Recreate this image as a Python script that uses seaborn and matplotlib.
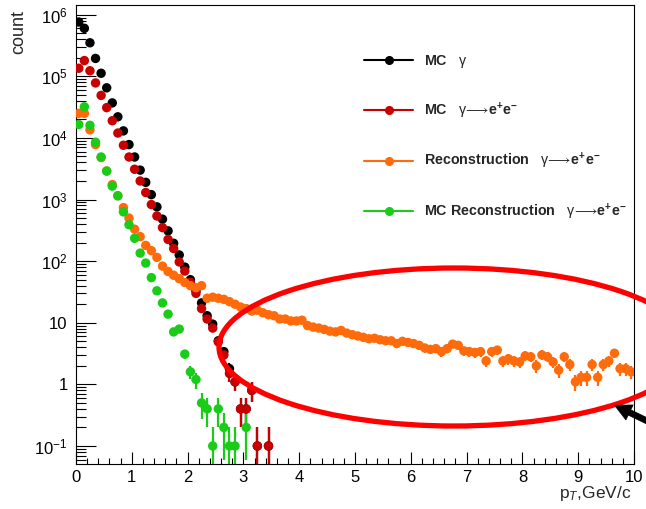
import numpy as np
import pandas as pd
import matplotlib
matplotlib.use("Agg")
import matplotlib.pyplot as plt
import seaborn as sns
from matplotlib.lines import Line2D
from matplotlib.patches import Ellipse, FancyArrowPatch
from matplotlib.ticker import FixedLocator, MultipleLocator, LogLocator, NullFormatter

nan = np.nan

# ---------------- data (bin width 0.1 GeV/c) ----------------
bin_centers = np.round(np.arange(100) * 0.1 + 0.05, 2)

mc_gamma = [7.6e5, 6.0e5, 3.5e5, 1.95e5, 1.12e5, 6.5e4, 3.7e4, 2.2e4, 1.3e4, 7.8e3,
            4.9e3, 3.0e3, 1.9e3, 1.2e3, 760, 480, 310, 195, 126, 80,
            50, 33, 21, 13, 9.5, 5.1, 3.4, 1.8, 1.1, 0.4,
            0.4, 0.8, 0.1, nan, 0.1]

mc_conv = [1.35e5, 1.8e5, 1.23e5, 7.8e4, 4.9e4, 3.1e4, 1.9e4, 1.2e4, 7.6e3, 4.9e3,
           3.1e3, 2.0e3, 1.3e3, 830, 540, 350, 225, 160, 97, 69,
           45, 30, 17, 11.5, 8.2, 4.9, 3.0, 1.5, 1.1, 0.4,
           0.4, 0.8, 0.1, nan, 0.1]

reco_conv = [2.5e4, 2.5e4, 1.35e4, 7.8e3, 4.8e3, 2.9e3, 1.75e3, 1.15e3, 740, 500,
             330, 250, 180, 148, 115, 83, 68, 59, 52, 45,
             40, 37, 40, 25, 26, 25, 24, 22, 20, 18,
             17, 15.5, 16, 14.5, 13.5, 13, 11.5, 11.5, 10.7, 10.7,
             11, 9, 8.5, 8.2, 7.8, 7.3, 7.1, 7.5, 6.8, 6.4,
             6.1, 5.8, 5.5, 5.6, 5.3, 5.1, 5.1, 4.6, 5.0, 4.8,
             4.6, 4.3, 3.9, 3.7, 3.8, 3.4, 3.8, 4.5, 4.3, 3.5,
             3.4, 3.3, 3.4, 2.4, 3.4, 3.6, 2.4, 2.6, 2.4, 2.3,
             2.9, 2.8, 2.0, 3.0, 2.8, 2.3, 1.7, 2.8, 2.1, 1.1,
             1.3, 1.3, 2.1, 1.3, 2.1, 2.4, 3.2, 1.8, 1.8, 1.6]

mc_reco_conv = [1.65e4, 3.2e4, 1.6e4, 8.5e3, 4.9e3, 2.9e3, 1.65e3, 1.15e3, 630, 390,
                235, 135, 93, 54, 33, 21, 13.8, 7.1, 7.9, 3.1,
                1.6, 1.2, 0.5, 0.4, 0.1, 0.4, 0.2, 0.1, 0.1, nan,
                0.2]

series_names = ["MC gamma", "MC conv", "Reco conv", "MC reco conv"]
series_values = [mc_gamma, mc_conv, reco_conv, mc_reco_conv]
colors = ["#000000", "#c80000", "#ff6a0a", "#18cc18"]
legend_labels = [r"MC   $\mathrm{\gamma}$",
                 r"MC   $\mathrm{\gamma}\!\longrightarrow\!\mathbf{e^{+}e^{-}}$",
                 r"Reconstruction   $\mathrm{\gamma}\!\longrightarrow\!\mathbf{e^{+}e^{-}}$",
                 r"MC Reconstruction   $\mathrm{\gamma}\!\longrightarrow\!\mathbf{e^{+}e^{-}}$"]
bin_weight = 0.1  # each entry counts 0.1 -> Poisson errors

# ---------------- style ----------------
sns.set_style("ticks")
plt.rcParams["font.family"] = ["Liberation Sans", "DejaVu Sans"]
plt.rcParams["mathtext.fontset"] = "custom"
plt.rcParams["mathtext.rm"] = "Liberation Sans"
plt.rcParams["mathtext.it"] = "Liberation Sans:italic"
plt.rcParams["mathtext.bf"] = "Liberation Sans:bold"

W, H = 646, 509
fig = plt.figure(figsize=(W / 100, H / 100), dpi=100)
ax_l, ax_r, ax_t, ax_b = 76, 634, 5.3, 464
ax = fig.add_axes([ax_l / W, 1 - ax_b / H, (ax_r - ax_l) / W, (ax_b - ax_t) / H])

frames = []
for name, vals in zip(series_names, series_values):
    v = np.asarray(vals, dtype=float)
    frames.append(pd.DataFrame({"pt": bin_centers[:len(v)], "count": v, "series": name}))
df = pd.concat(frames, ignore_index=True).dropna()
palette = dict(zip(series_names, colors))

# error bars
for name in series_names:
    d = df[df.series == name]
    err = np.sqrt(bin_weight * d["count"].values)
    lo = np.clip(d["count"].values - err, 1e-4, None)
    hi = d["count"].values + err
    ax.vlines(d["pt"].values, lo, hi, color=palette[name], lw=1.6, zorder=2)

sns.scatterplot(data=df, x="pt", y="count", hue="series", palette=palette,
                s=46, edgecolor="none", linewidth=0, legend=False, ax=ax, zorder=3)

ax.set_yscale("log")
ax.set_xlim(0, 10)
ax.set_ylim(0.051, 1.42e6)

yt = [0.1, 1, 10, 100, 1e3, 1e4, 1e5, 1e6]
ytl = [r"$10^{-1}$", "1", "10", r"$10^{2}$", r"$10^{3}$", r"$10^{4}$", r"$10^{5}$", r"$10^{6}$"]
ax.yaxis.set_major_locator(FixedLocator(yt))
ax.set_yticklabels(ytl)
ax.yaxis.set_minor_locator(LogLocator(base=10, subs=np.arange(2, 10), numticks=20))
ax.yaxis.set_minor_formatter(NullFormatter())
ax.xaxis.set_major_locator(MultipleLocator(1))
ax.xaxis.set_minor_locator(MultipleLocator(0.2))

ax.tick_params(axis="both", which="both", direction="in", top=False, right=False,
               colors="black", width=0.8, labelsize=12)
ax.tick_params(axis="y", which="major", length=14.4, pad=6)
ax.tick_params(axis="y", which="minor", length=7.2)
ax.tick_params(axis="x", which="major", length=8.6, pad=4.5)
ax.tick_params(axis="x", which="minor", length=4.3)
for s in ax.spines.values():
    s.set_visible(True)
    s.set_linewidth(0.8)
    s.set_color("black")

ax.set_xlabel(r"p$_{T}$,GeV/c", fontsize=12.5, loc="right")
ax.xaxis.set_label_coords((631 - ax_l) / (ax_r - ax_l), -(484 - ax_b) / (ax_b - ax_t))
ax.set_ylabel("count", fontsize=13, loc="top")
ax.yaxis.set_label_coords(-(ax_l - 27) / (ax_r - ax_l), 0.99)

handles = [Line2D([], [], color=c, marker="o", markersize=5.5, lw=1.5) for c in colors]
leg = ax.legend(handles, legend_labels, loc="upper left",
                bbox_to_anchor=(364 / W, 1 - 53 / H), bbox_transform=fig.transFigure,
                frameon=False, prop={"weight": "bold", "size": 10.3},
                handlelength=3.45, handletextpad=0.75, labelspacing=2.12,
                borderpad=0, borderaxespad=0)

# annotation: red ellipse and black arrow (figure pixel positions)
ell = Ellipse((454 / W, 1 - 347 / H), 470 / W, 158 / H, transform=fig.transFigure,
              fill=False, edgecolor="#ff0000", lw=3.8, zorder=10, clip_on=False)
fig.add_artist(ell)
arr = FancyArrowPatch((672 / W, 1 - 433 / H), (612 / W, 1 - 404 / H),
                      transform=fig.transFigure,
                      arrowstyle="simple,head_length=1.0,head_width=1.0,tail_width=0.35",
                      facecolor="black", edgecolor="black", lw=0.5, mutation_scale=12,
                      clip_on=False, zorder=11)
fig.add_artist(arr)

fig.savefig("out.png", dpi=100)
